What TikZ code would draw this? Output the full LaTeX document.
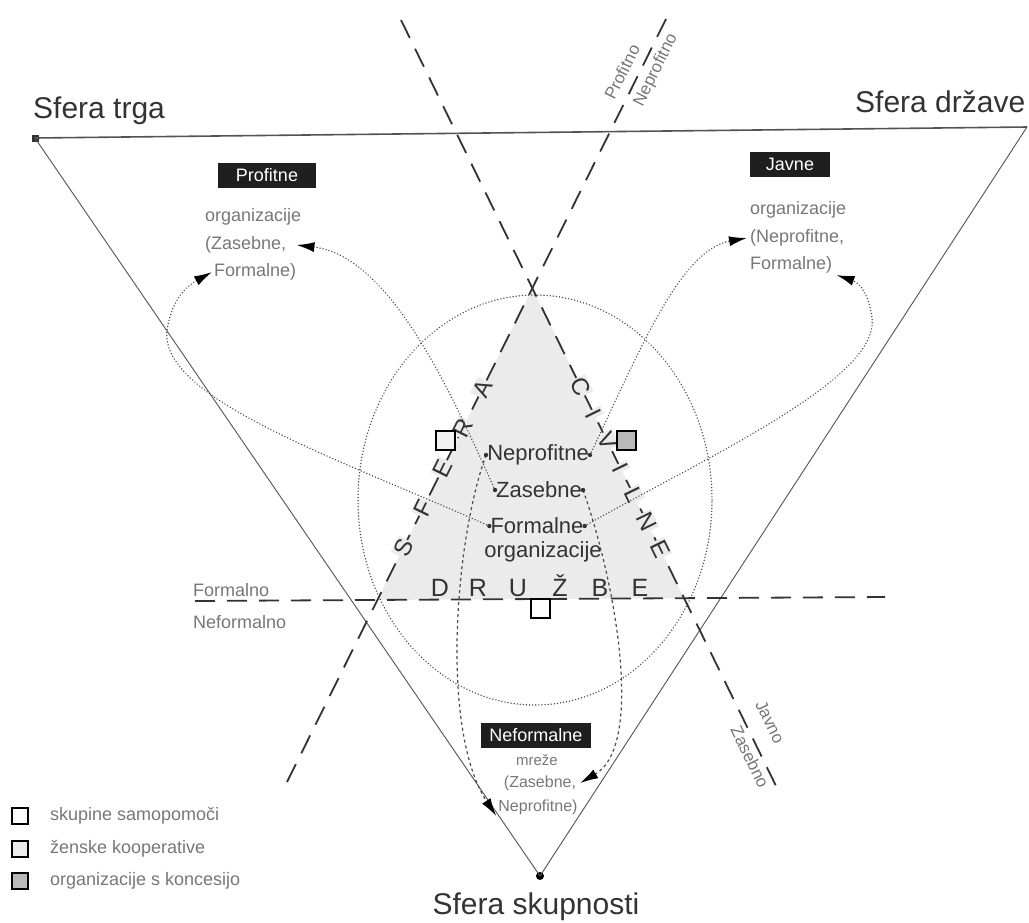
\documentclass[tikz,border=0pt]{standalone}
\usepackage{fontspec}
\setmainfont{Liberation Sans}
\usetikzlibrary{arrows.meta,calc}
\definecolor{ink}{HTML}{333333}
\definecolor{soft}{HTML}{777777}
\definecolor{civ}{HTML}{EBEBEB}
\begin{document}
\begin{tikzpicture}[x=1pt,y=-1pt,
  fs/.style={font=\fontsize{#1}{#1}\selectfont},
  sphere/.style={fs=30,text=ink,inner sep=0pt},
  edge/.style={line width=0.9pt,draw=gray!65!black},
  axis/.style={line width=1.8pt,draw=ink,dash pattern=on 20pt off 12pt},
  flow/.style={line width=1.5pt,draw=gray!60!black,dash pattern=on 0.1pt off 3pt,line cap=round},
  flowd/.style={line width=1.2pt,draw=gray!60!black,dash pattern=on 3pt off 3pt},
  tip/.style={-{Latex[length=18pt,width=10pt,color=black]}},
  tag/.style={fill=black!88,text=white,fs=18,inner sep=0pt,minimum height=25pt},
  small/.style={fs=#1,text=soft,inner sep=0pt},
  mid/.style={fs=22,text=ink,inner sep=1pt},
  letter/.style={fs=24,text=ink,inner sep=1pt,fill=civ},
  sq/.style={draw=black,line width=2pt,minimum size=19pt,inner sep=0pt},
  lsq/.style={draw=black,line width=1.6pt,minimum size=16pt,inner sep=0pt},
  dotm/.style={fill=ink}
]
\useasboundingbox (0,0) rectangle (1029,922);

% axis end points
\coordinate (pTop) at (668,15);
\coordinate (pBot) at (287,782);
\coordinate (jTop) at (401,20);
\coordinate (jBot) at (779,792);
\coordinate (fL) at (195,601);
\coordinate (fR) at (885,597);
\coordinate (apex) at (intersection of pTop--pBot and jTop--jBot);
\coordinate (baseL) at (intersection of pTop--pBot and fL--fR);
\coordinate (baseR) at (intersection of jTop--jBot and fL--fR);

% civil society triangle
\fill[civ] (apex) -- (baseL) -- (baseR) -- cycle;

% dotted ring
\draw[flow] (535,500) ellipse [x radius=177pt, y radius=205pt];

% main triangle
\node[fill=ink,minimum size=7pt,inner sep=0pt] (trg) at (35,138) {};
\coordinate (drz) at (1027,127);
\node[circle,fill=black,minimum size=8pt,inner sep=0pt] (skup) at (540,876) {};
\draw[edge,line width=1.6pt] (trg.center) -- (drz);
\draw[edge] (trg.center) -- (skup.center);
\draw[edge] (drz) -- (skup.center);

% sphere names
\node[sphere,anchor=base west] (ntrg) at (33,118) {Sfera trga};
\node[sphere,anchor=base west] (ndrz) at (855,112) {Sfera države};
\node[sphere,anchor=base] (nskup) at (536,914) {Sfera skupnosti};

% dividing axes
\draw[axis] (pBot) -- (pTop);
\draw[axis] (jTop) -- (jBot);
\draw[axis] (fL) -- (fR);

% axis captions
\node[small=18,anchor=base west] (formal) at (193,596) {Formalno};
\node[small=18,anchor=base west] (neformal) at (193,628) {Neformalno};
\node[small=17,rotate=63.6] (profitno) at (622,72) {Profitno};
\node[small=17,rotate=63.6] (neprofitno) at (656,70) {Neprofitno};
\node[small=17,rotate=-64] (javno) at (770,722) {Javno};
\node[small=17,rotate=-64] (zasebno) at (750,757) {Zasebno};

% letters along the inner triangle
\foreach \ch/\t in {S/0.305,F/0.357,E/0.409,R/0.461,A/0.513}
  \node[letter,rotate=63.6] at ($(pBot)!\t!(pTop)$) {\ch};
\foreach \ch/\t in {C/0.475,I/0.51,V/0.545,I/0.58,L/0.615,N/0.65,E/0.685}
  \node[letter,rotate=-64] at ($(jTop)!\t!(jBot)$) {\ch};
\foreach \ch/\x in {D/440,R/478,U/518,Ž/560,B/600,E/640}
  \node[fs=25,text=ink,inner sep=0pt,anchor=base] at (\x,596) {\ch};

% centre labels
\node[mid] (np) at (538,455) {Neprofitne};
\node[mid] (za) at (539,490) {Zasebne};
\node[mid] (fo) at (537,526) {Formalne};
\node[mid] (org) at (543,552) {organizacije};

% sector tags
\node[tag,minimum width=98pt] (tprof) at (267,175) {Profitne};
\node[tag,minimum width=80pt] (tjav) at (790,164) {Javne};
\node[tag,minimum width=110pt] (tnef) at (536,735) {Neformalne};

\node[small=18,anchor=west] (p1) at (205,217) {organizacije};
\node[small=18,anchor=west] (p2) at (205,245) {(Zasebne,};
\node[small=18,anchor=west] (p3) at (214,272) {Formalne)};
\node[small=18,anchor=west] (j1) at (750,210) {organizacije};
\node[small=18,anchor=west] (j2) at (750,238) {(Neprofitne,};
\node[small=18,anchor=west] (j3) at (750,265) {Formalne)};
\node[small=15] (n1) at (537,760) {mreže};
\node[small=16] (n2) at (540,783) {(Zasebne,};
\node[small=16] (n3) at (538,807) {Neprofitne)};

% flows from the centre to the sectors
\draw[flow,tip] (fo.west) .. controls (330,455) and (150,395) .. (168,325)
  .. controls (173,300) and (185,287) .. ([xshift=-2pt]p3.west);
\draw[flow,tip] (za.west) .. controls (450,390) and (390,256) .. ([xshift=10pt]p2.east);
\draw[flow,tip] (np.east) .. controls (640,350) and (680,250) .. ([xshift=-3pt]j2.west);
\draw[flow,tip] (fo.east) .. controls (700,460) and (880,380) .. (872,318)
  .. controls (869,295) and (860,283) .. ([xshift=4pt,yshift=-10pt]j3.east);
\draw[flowd,tip] (np.west) .. controls (455,540) and (440,730) .. ([xshift=-2pt,yshift=-9pt]n3.west);
\draw[flowd,tip] (za.east) .. controls (615,580) and (645,745) .. ([xshift=4pt]n2.east);
\foreach \a in {np.west,np.east,za.west,za.east,fo.west,fo.east}
  \fill[dotm] (\a) circle (2.2pt);

% organisation markers
\node[sq,fill=gray!10] (sqa) at (445,440) {};
\node[sq,fill=gray!55] (sqc) at (626,440) {};
\node[sq,fill=white] (sqb) at (540,608) {};

% legend
\node[lsq,fill=white] (l1) at (20,816) {};
\node[lsq,fill=gray!15] (l2) at (20,849) {};
\node[lsq,fill=gray!55] (l3) at (20,881) {};
\node[small=18,anchor=west] (t1) at (50,816) {skupine samopomoči};
\node[small=18,anchor=west] (t2) at (50,849) {ženske kooperative};
\node[small=18,anchor=west] (t3) at (50,881) {organizacije s koncesijo};
\end{tikzpicture}
\end{document}
